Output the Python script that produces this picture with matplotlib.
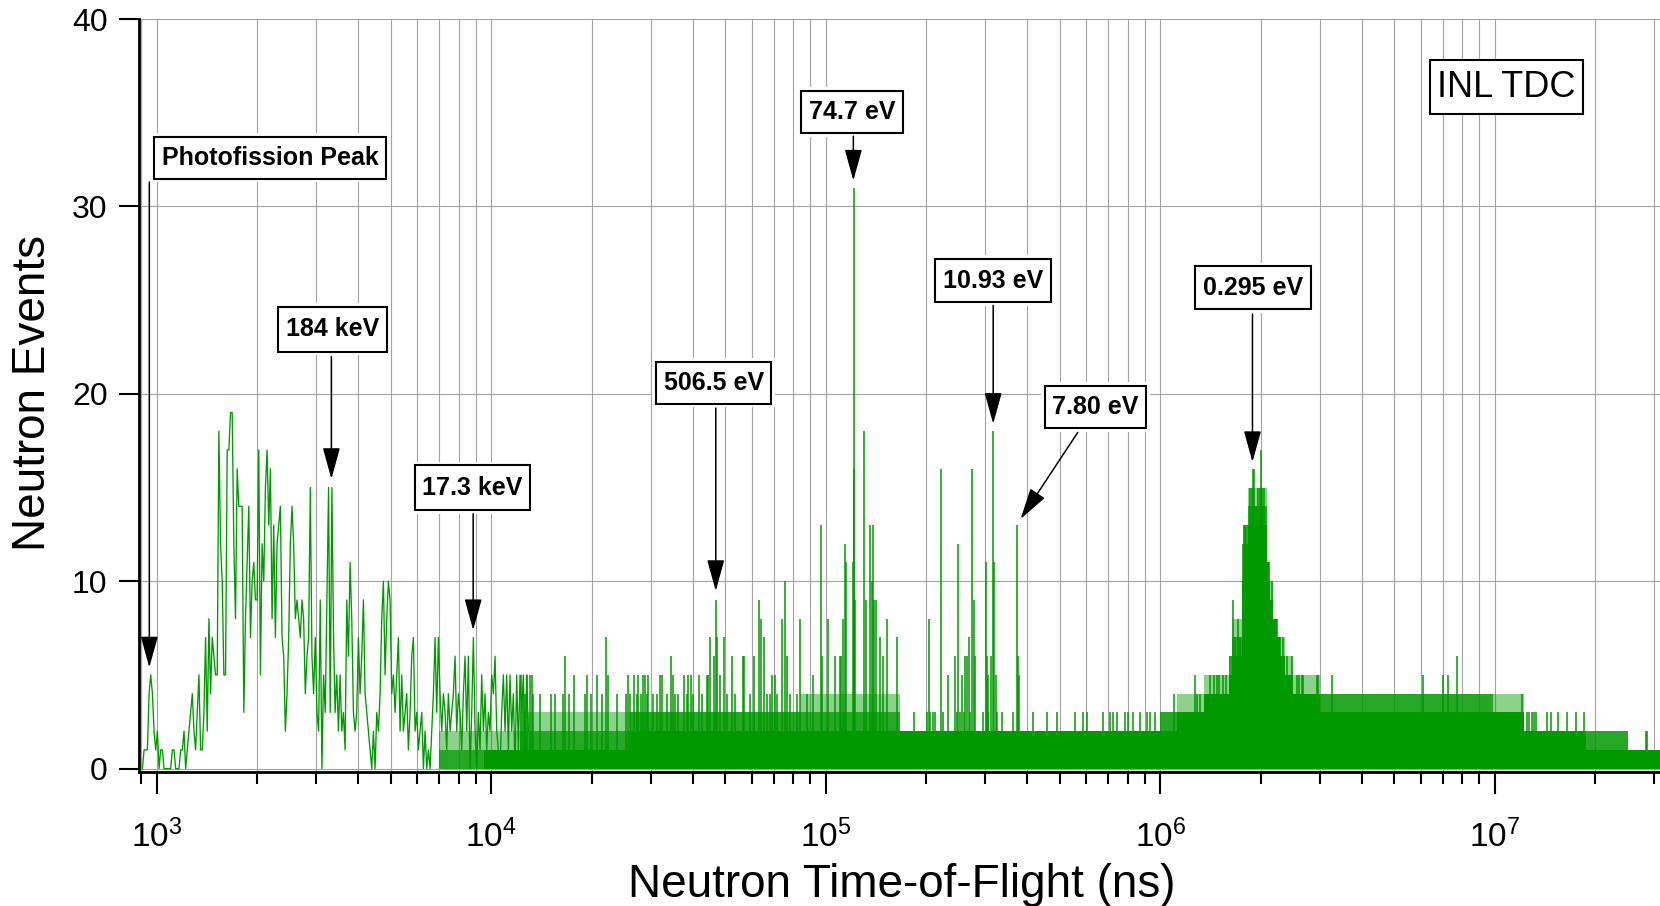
import numpy as np
import matplotlib
matplotlib.use("Agg")
import matplotlib.pyplot as plt
from matplotlib.path import Path
from matplotlib.ticker import LogLocator, NullFormatter, FixedLocator

plt.rcParams['font.family'] = ['Liberation Sans', 'DejaVu Sans']
plt.rcParams['mathtext.fontset'] = 'custom'
plt.rcParams['mathtext.rm'] = 'Liberation Sans'
plt.rcParams['mathtext.it'] = 'Liberation Sans:italic'
plt.rcParams['mathtext.bf'] = 'Liberation Sans:bold'

# ---------------- data ----------------
# low-TOF histogram bins, read bin by bin (log-spaced bin centres)
tof_range_a = (906.0, 3377.0)
counts_a = [0, 1, 1, 1, 4, 5, 4, 2, 1, 2, 0, 1, 1, 0, 0, 0, 0, 0, 1, 1,
            0, 0, 0, 1, 1, 2, 0, 1, 2, 3, 4, 2, 1, 3, 5, 1, 1, 3, 7, 2,
            8, 4, 7, 6, 5, 5, 18, 12, 10, 5, 5, 17, 17, 19, 19, 12, 8, 16, 14, 14,
            14, 3, 8, 11, 14, 7, 10, 11, 9, 9, 17, 5, 12, 10, 15, 17, 13, 16, 8, 13,
            7, 12, 13, 14, 7, 6, 2, 4, 7, 12, 14, 12, 8, 9, 8, 7, 9, 8, 4, 6,
            7, 15, 6, 4, 7, 3, 2, 9, 0, 5, 3, 9, 15, 3, 15, 7]

tof_range_b = (3413.0, 12910.0)
counts_b = [3, 5, 2, 5, 2, 3, 1, 9, 6, 11, 8, 3, 2, 3, 7, 4, 6, 9, 4, 3,
            2, 1, 0, 2, 0, 3, 2, 4, 8, 10, 5, 8, 10, 9, 4, 5, 3, 5, 7, 2,
            5, 2, 3, 4, 1, 3, 6, 7, 2, 3, 1, 2, 3, 0, 2, 0, 1, 0, 2, 4,
            7, 3, 7, 4, 2, 4, 3, 1, 4, 2, 3, 4, 6, 2, 4, 3, 1, 4, 6, 2,
            6, 0, 3, 7, 2, 0, 3, 1, 5, 2, 4, 1, 3, 2, 5, 4, 6, 2, 1, 0,
            3, 5, 2, 5, 1, 5, 2, 4, 0, 5, 1, 5, 3, 5, 1, 5, 2]

# dense high-TOF region: level reached by (nearly) every bin, by most bins, by some bins
band_edges = [7000, 9500, 12200, 26000, 84000, 167000, 1.0e6, 1.12e6, 1.35e6, 1.6e6,
              1.64e6, 1.75e6, 1.77e6, 1.83e6, 2.0e6, 2.08e6, 2.13e6, 2.18e6, 2.23e6,
              2.28e6, 2.36e6, 2.5e6, 3.0e6, 9.9e6, 1.22e7, 1.88e7, 2.5e7, 3.3e7]
solid_level = [0, 1, 1, 2, 2, 2, 2, 3, 4, 5, 6, 10, 12, 13, 13, 10, 9, 8, 7, 6, 5, 4, 3, 3, 2, 1, 1]
dense_level = [1, 1, 2, 3, 3, 2, 3, 3, 4, 6, 7, 10, 13, 14, 14, 11, 9, 8, 7, 6, 5, 4, 4, 3, 2, 2, 1]
sparse_level = [2, 2, 3, 3, 4, 2, 3, 4, 5, 6, 8, 10, 13, 15, 15, 11, 10, 8, 7, 7, 6, 5, 4, 4, 2, 2, 1]

# individual tall bins above those levels
spike_tof = [12270, 12480, 12620, 12760, 13060, 13210, 13370, 13990, 15060, 15520,
             16370, 16630, 17020, 17700, 19060, 19280, 19870, 20670, 21370, 22040,
             22390, 23710, 25290, 25700, 26010, 26720, 27230, 27540, 27990, 28380,
             28840, 29170, 29510, 30540, 31250, 31990, 32360, 33490, 34510, 34910,
             35470, 36290, 37760, 38380, 38840, 39480, 40200, 41810, 42580, 44080,
             44590, 45110, 46480, 47020, 47450, 48330, 49690, 50570, 52500, 53570,
             56490, 57010, 59430, 61090, 63380, 63970, 65160, 66670, 68230, 68920,
             70520, 71350, 73850, 75560, 76440, 78190, 81850, 83750, 87700,
             91400, 96600, 97500, 101400, 106700, 110000, 111000, 112500, 113800, 114900,
             120300, 121200, 121700, 122400, 129700, 131700, 135800, 137400, 138100, 139400,
             141400, 145300, 148700, 152100, 162900, 184000, 204100, 209800, 221300, 232000,
             243000, 248400, 255500, 260000, 264200, 267300, 273600, 276800, 280000, 300800,
             302900, 305600, 311400, 315700, 318600, 321800, 372300, 376600, 378800,
             200500, 205100, 212300, 224800, 246700, 252400, 258300, 270500, 296000, 306500,
             324600, 335900, 364000, 417800, 458100, 490900, 556300, 589200, 602900, 676100,
             707900, 724300, 741300, 784900, 803100, 831300, 870100, 915100, 932100, 965000,
             1.101e6, 1.271e6, 1.292e6, 1.315e6, 1.409e6, 1.448e6, 1.475e6, 1.503e6, 1.544e6, 1.568e6,
             1.655e6, 1.674e6, 1.713e6, 1.732e6, 1.773e6, 1.794e6, 1.814e6, 1.856e6, 1.877e6, 1.890e6,
             1.912e6, 1.935e6, 1.958e6, 1.990e6, 2.005e6, 2.021e6, 2.044e6, 2.072e6, 2.104e6, 2.164e6,
             2.204e6, 2.240e6, 2.281e6, 2.334e6, 2.388e6, 2.476e6, 2.559e6, 2.606e6, 2.650e6, 2.666e6,
             2.950e6, 2.972e6, 3.256e6, 6.12e6, 6.99e6, 7.24e6, 7.70e6, 1.21e7,
             1.25e7, 1.27e7, 1.29e7, 1.31e7, 1.33e7, 1.43e7, 1.47e7, 1.55e7, 1.65e7, 1.75e7, 1.85e7,
             2.83e7, 2.86e7]
spike_counts = [5, 4, 4, 5, 5, 5, 4, 4, 4, 4,
                4, 6, 4, 5, 4, 5, 4, 5, 4, 7,
                5, 4, 4, 5, 4, 5, 4, 5, 4, 5,
                5, 4, 5, 4, 4, 5, 5, 4, 6, 5,
                4, 4, 5, 4, 5, 5, 4, 5, 4, 5,
                5, 7, 6, 9, 7, 5, 7, 4, 6, 4,
                6, 6, 4, 6, 9, 8, 7, 4, 4, 5,
                5, 4, 8, 10, 6, 4, 4, 8, 4,
                5, 13, 6, 8, 6, 6, 6, 8, 12, 11,
                11, 31, 16, 9, 18, 9, 13, 10, 13, 9,
                9, 7, 6, 8, 7, 3, 8, 3, 16, 5,
                6, 12, 5, 6, 6, 7, 16, 9, 6, 11,
                6, 5, 6, 18, 11, 5, 13, 6, 5,
                3, 3, 3, 3, 3, 3, 3, 3, 3, 3,
                3, 3, 3, 3, 3, 3, 3, 3, 3, 3,
                3, 3, 3, 3, 3, 3, 3, 3, 3, 3,
                4, 5, 4, 4, 5, 5, 5, 5, 5, 5,
                9, 7, 8, 7, 12, 13, 12, 15, 15, 16,
                16, 14, 15, 15, 17, 15, 15, 13, 11, 10,
                8, 8, 7, 7, 6, 6, 5, 5, 5, 5,
                5, 5, 5, 5, 5, 5, 6, 4,
                3, 3, 3, 3, 3, 3, 3, 3, 3, 3, 3,
                2, 2]

x_ticks = [1e3, 1e4, 1e5, 1e6, 1e7]
x_tick_labels = [r'$10^{3}$', r'$10^{4}$', r'$10^{5}$', r'$10^{6}$', r'$10^{7}$']
y_ticks = [0, 10, 20, 30, 40]

GREEN = '#009900'

# ---------------- figure ----------------
fig = plt.figure(figsize=(16.6, 9.06), dpi=100)
ax = fig.add_axes([0.0836, 0.1479, 0.9164, 0.8311])
ax.set_xscale('log')
ax.set_xlim(883.5, 3.12e7)
ax.set_ylim(-0.18, 40)

# grid
ax.set_axisbelow(True)
ax.grid(True, which='both', axis='x', color='#a3a3a3', lw=0.8, zorder=0)
ax.grid(True, which='major', axis='y', color='#a3a3a3', lw=0.8, zorder=0)

# dense region as filled levels
edges = np.array(band_edges, dtype=float)
sol = np.array(solid_level + [solid_level[-1]], dtype=float)
den = np.array(dense_level + [dense_level[-1]], dtype=float)
spa = np.array(sparse_level + [sparse_level[-1]], dtype=float)
ax.fill_between(edges, 0, sol, step='post', color=GREEN, lw=0, zorder=1)
ax.fill_between(edges, sol, den, step='post', color=GREEN, alpha=0.85, lw=0, zorder=1)
ax.fill_between(edges, den, spa, step='post', color=GREEN, alpha=0.45, lw=0, zorder=1)

# individual bins
tof_a = np.geomspace(tof_range_a[0], tof_range_a[1], len(counts_a))
tof_b = np.geomspace(tof_range_b[0], tof_range_b[1], len(counts_b))
ax.plot(np.concatenate([tof_a, tof_b]), np.concatenate([counts_a, counts_b]),
        color=GREEN, lw=0.95, zorder=2)
ax.vlines(spike_tof, 0, spike_counts, color=GREEN, lw=1.1, zorder=2)

# axes styling
for s in ('top', 'right'):
    ax.spines[s].set_visible(False)
for s in ('left', 'bottom'):
    ax.spines[s].set_linewidth(2.0)
ax.spines['left'].set_bounds(-0.18, 40)

ax.xaxis.set_major_locator(FixedLocator(x_ticks))
ax.set_xticklabels(x_tick_labels)
ax.xaxis.set_minor_locator(LogLocator(base=10, subs=np.arange(2, 10)))
ax.xaxis.set_minor_formatter(NullFormatter())
ax.set_yticks(y_ticks)
ax.tick_params(axis='x', which='major', direction='out', length=16, width=1.5,
               labelsize=24, pad=18)
ax.tick_params(axis='x', which='minor', direction='out', length=8.5, width=1.5)
ax.tick_params(axis='y', which='major', direction='out', length=14.5, width=1.5,
               labelsize=23, pad=8)

fig.text(902 / 1660, 1 - 897 / 906, 'Neutron Time-of-Flight (ns)', ha='center',
         va='baseline', fontsize=33)
fig.text(33 / 1660, 1 - 393 / 906, 'Neutron Events', rotation=90, ha='center',
         va='center', fontsize=33)


# annotation boxes with separate horizontal / vertical padding
class PadBox:
    def __init__(self, padx, pady):
        self.padx = padx
        self.pady = pady

    def __call__(self, x0, y0, width, height, mutation_size):
        px = self.padx * mutation_size
        py = self.pady * mutation_size
        x0, y0 = x0 - px, y0 - py
        x1, y1 = x0 + width + 2 * px, y0 + height + 2 * py
        return Path([(x0, y0), (x1, y0), (x1, y1), (x0, y1), (x0, y0)],
                    [Path.MOVETO, Path.LINETO, Path.LINETO, Path.LINETO, Path.CLOSEPOLY])


def label_box(x, y, s, size=18, weight='bold', padx=0.30, pady=0.42):
    ax.text(x, y, s, ha='center', va='center', fontsize=size, fontweight=weight,
            color='none', zorder=5,
            bbox=dict(boxstyle=PadBox(padx + 0.15, pady + 0.15), fc='white', ec='none'))
    ax.text(x, y, s, ha='center', va='center', fontsize=size, fontweight=weight,
            color='black', zorder=6,
            bbox=dict(boxstyle=PadBox(padx, pady), fc='white', ec='black', lw=1.5))


def arrow(x0, y0, x1, y1):
    ax.annotate('', xy=(x1, y1), xytext=(x0, y0), zorder=7,
                arrowprops=dict(arrowstyle='-|>,head_length=1.3,head_width=0.36',
                                mutation_scale=15, color='black', lw=1.1,
                                shrinkA=0, shrinkB=0))


label_box(2184, 32.6, 'Photofission Peak', padx=0.30, pady=0.36)
arrow(950, 31.3, 950, 5.4)
label_box(3350, 23.45, '184 keV')
arrow(3327, 22.0, 3327, 15.46)
label_box(8770, 14.98, '17.3 keV')
arrow(8830, 13.6, 8830, 7.39)
label_box(46240, 20.6, '506.5 eV', pady=0.36)
arrow(46900, 19.24, 46900, 9.48)
label_box(119800, 35.04, '74.7 eV', pady=0.36)
arrow(120940, 33.75, 120940, 31.38)
label_box(316000, 26.04, '10.93 eV', pady=0.38)
arrow(316700, 24.72, 316700, 18.4)
label_box(639200, 19.3, '7.80 eV', pady=0.36)
arrow(566800, 17.94, 382500, 13.32)
label_box(1.894e6, 25.65, '0.295 eV', pady=0.38)
arrow(1.887e6, 24.26, 1.887e6, 16.36)
ax.text(1.082e7, 36.37, 'INL TDC', ha='center', va='center', fontsize=26, zorder=6,
        bbox=dict(boxstyle=PadBox(0.2, 0.26), fc='white', ec='black', lw=1.5))

fig.savefig('out.png', dpi=100)
